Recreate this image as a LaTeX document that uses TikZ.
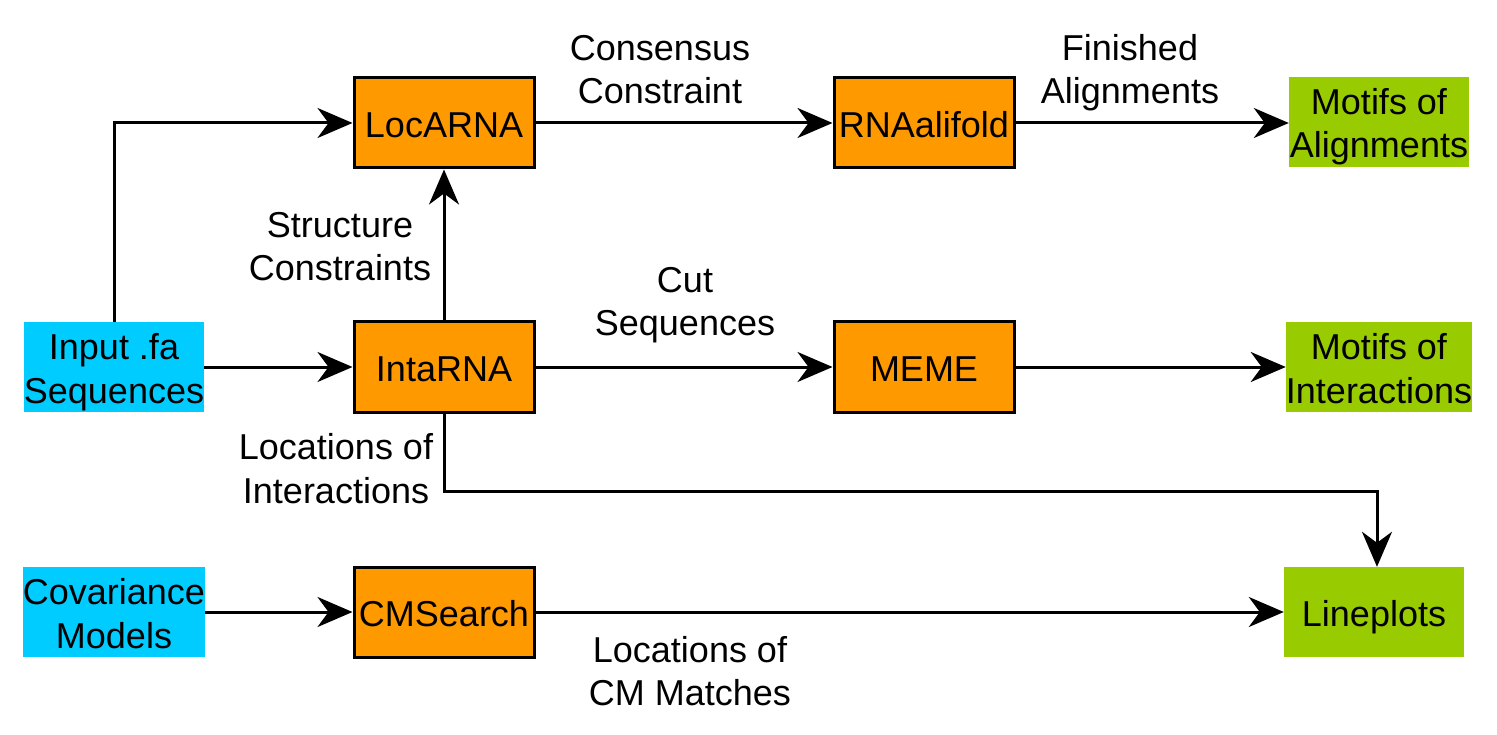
\documentclass[tikz,border=0pt]{standalone}
\usepackage{fontspec}
\setmainfont{Liberation Sans}
\usetikzlibrary{arrows.meta}
\definecolor{cyanbox}{HTML}{00CCFF}
\definecolor{orangebox}{HTML}{FF9900}
\definecolor{greenbox}{HTML}{99CC00}
\newcommand{\lnstrut}{\rule[-7.1pt]{0pt}{43.2pt}}
\begin{document}
\begin{tikzpicture}[x=1pt,y=-1pt,
  every node/.style={font=\fontsize{36}{43.2}\selectfont, align=center, inner sep=0pt},
  box/.style={minimum width=180pt, minimum height=90pt},
  inbox/.style={box, fill=cyanbox},
  tool/.style={box, fill=orangebox, draw=black, line width=3pt},
  outbox/.style={box, fill=greenbox},
  conn/.style={line width=3pt, -{Stealth[length=35pt,width=30pt,inset=11pt]}},
  lbl/.style={}]
\useasboundingbox (0,0) rectangle (1497,735);
\node[inbox] (input) at (114,367) {\lnstrut Input .fa\\\lnstrut Sequences};
\node[inbox] (cov) at (114,612) {\lnstrut Covariance\\\lnstrut Models};
\node[tool] (locarna) at (444,123) {\lnstrut LocARNA};
\node[tool] (intarna) at (444,367) {\lnstrut IntaRNA};
\node[tool] (cmsearch) at (444,612) {\lnstrut CMSearch};
\node[tool] (alifold) at (924,123) {\lnstrut RNAalifold};
\node[tool] (meme) at (924,367) {\lnstrut MEME};
\node[outbox] (motA) at (1379,122) {\lnstrut Motifs of\\\lnstrut Alignments};
\node[outbox] (motI) at (1379,367) {\lnstrut Motifs of\\\lnstrut Interactions};
\node[outbox] (lines) at (1374,612) {\lnstrut Lineplots};
\coordinate (c1) at (114,123);
\coordinate (c2) at (444,491);
\coordinate (c3) at (1377,491);
\draw[conn] (input.north) -- (c1) -- (locarna.west);
\draw[conn] (input.east) -- (intarna.west);
\draw[conn] (intarna.north) -- (locarna.south);
\draw[conn] (locarna.east) -- (alifold.west);
\draw[conn] (alifold.east) -- (alifold.east -| motA.west);
\draw[conn] (intarna.east) -- (meme.west);
\draw[conn] (meme.east) -- (meme.east -| motI.west);
\draw[conn] (intarna.south) -- (c2) -- (c3) -- (c3 |- lines.north);
\draw[conn] (cov.east) -- (cmsearch.west);
\draw[conn] (cmsearch.east) -- (lines.west);
\node[lbl] (l1) at (660,67.5) {\lnstrut Consensus\\\lnstrut Constraint};
\node[lbl] (l2) at (1130,67.5) {\lnstrut Finished\\\lnstrut Alignments};
\node[lbl] (l3) at (340,244.5) {\lnstrut Structure\\\lnstrut Constraints};
\node[lbl] (l4) at (685,300) {\lnstrut Cut\\\lnstrut Sequences};
\node[lbl] (l5) at (336,467) {\lnstrut Locations of\\\lnstrut Interactions};
\node[lbl] (l6) at (690,669.5) {\lnstrut Locations of\\\lnstrut CM Matches};
\end{tikzpicture}
\end{document}
